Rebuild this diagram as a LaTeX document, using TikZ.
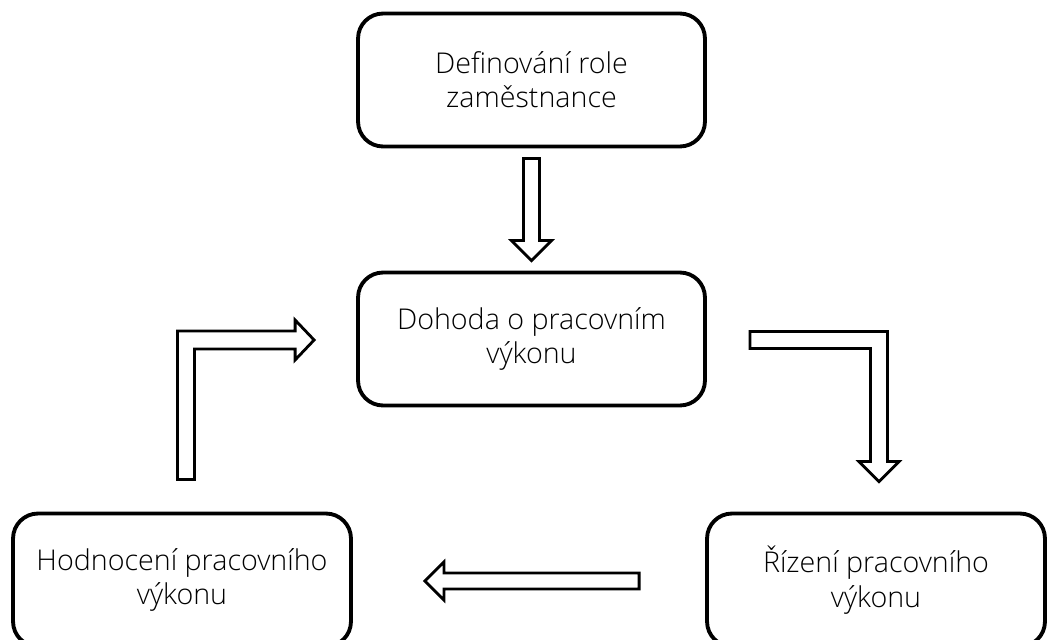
\documentclass[tikz,border=0pt]{standalone}
\usepackage{fontspec}
\setmainfont{Open Sans}[UprightFont=* Light]
\usetikzlibrary{positioning, calc}

\begin{document}
\begin{tikzpicture}[
  x=0.02cm, y=-0.02cm,
  every node/.style={font=\fontsize{16.3}{19.5}\selectfont},
  stage/.style={rectangle, draw, line width=2.2pt, rounded corners=0.5cm, align=center,
    minimum width=6.94cm, minimum height=2.66cm},
  blockarrow/.style={draw, line width=1.6pt, fill=white, line join=miter},
]
  \useasboundingbox (0,0) rectangle (1047,639);

  \node[stage] (role) at (531.5,80) {Definování role\\zaměstnance};
  \node[stage] (dohoda) at (531.5,339) {Dohoda o pracovním\\výkonu};
  \node[stage, minimum width=6.76cm] (hodnoceni) at (182,580) {Hodnocení pracovního\\výkonu};
  \node[stage, minimum width=6.76cm] (rizeni) at (876,580) {Řízení pracovního\\výkonu};

  % role -> dohoda
  \coordinate (a1) at ($(role.south)+(0,10)$);
  \coordinate (a2) at ($(dohoda.north)+(0,-10)$);
  \draw[blockarrow] ($(a1)+(-8,0)$) -- ($(a1)+(8,0)$) -- ($(a2)+(8,-20)$) -- ($(a2)+(20,-20)$)
    -- (a2) -- ($(a2)+(-20,-20)$) -- ($(a2)+(-8,-20)$) -- cycle;

  % dohoda -> rizeni
  \coordinate (c1) at ($(dohoda.east)+(43,1)$);
  \coordinate (c2) at ($(rizeni.north)+(3,-30)$);
  \draw[blockarrow] ($(c1)+(0,-8.5)$) -- ($(c1 -| c2)+(8.5,-8.5)$) -- ($(c2)+(8.5,-20)$)
    -- ($(c2)+(20,-20)$) -- (c2) -- ($(c2)+(-20,-20)$) -- ($(c2)+(-8.5,-20)$)
    -- ($(c1 -| c2)+(-8.5,8.5)$) -- ($(c1)+(0,8.5)$) -- cycle;

  % rizeni -> hodnoceni
  \coordinate (d1) at ($(rizeni.west)+(-66,1)$);
  \coordinate (d2) at ($(hodnoceni.east)+(72,1)$);
  \draw[blockarrow] ($(d1)+(0,-8)$) -- ($(d2)+(19,-8)$) -- ($(d2)+(19,-19)$) -- (d2)
    -- ($(d2)+(19,19)$) -- ($(d2)+(19,8)$) -- ($(d1)+(0,8)$) -- cycle;

  % hodnoceni -> dohoda
  \coordinate (b1) at ($(hodnoceni.north)+(4,-32)$);
  \coordinate (b2) at ($(dohoda.west)+(-42,1)$);
  \draw[blockarrow] ($(b1)+(-8.5,0)$) -- ($(b1 |- b2)+(-8.5,-9)$) -- ($(b2)+(-19,-9)$)
    -- ($(b2)+(-19,-20)$) -- (b2) -- ($(b2)+(-19,20)$) -- ($(b2)+(-19,9)$)
    -- ($(b1 |- b2)+(8.5,9)$) -- ($(b1)+(8.5,0)$) -- cycle;
\end{tikzpicture}
\end{document}
